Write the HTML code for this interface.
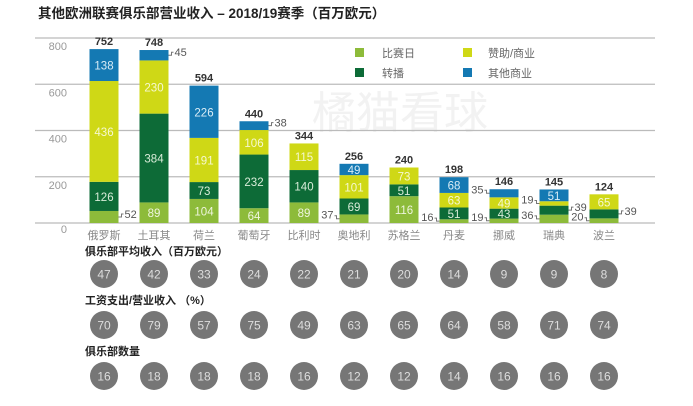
<!DOCTYPE html>
<html><head><meta charset="utf-8"><style>
body{margin:0;background:#fff;font-family:"Liberation Sans","Noto Sans CJK SC",sans-serif;}
svg text{font-family:"Liberation Sans","Noto Sans CJK SC",sans-serif;}
</style></head><body>
<svg id="c" width="693" height="401" viewBox="0 0 693 401" xmlns="http://www.w3.org/2000/svg">
<text x="38" y="18" font-size="13.5" font-weight="bold" fill="#222">其他欧洲联赛俱乐部营业收入 – 2018/19赛季（百万欧元）</text>
<text x="400" y="128" font-size="44" fill="#f2f2f2" text-anchor="middle">橘猫看球</text>
<g id="grid"></g><g id="bars"></g>
<g>
<rect x="355" y="48" width="9" height="9" fill="#8dbb3a"/><text x="382" y="57" font-size="11" fill="#666">比赛日</text>
<rect x="463" y="48" width="9" height="9" fill="#cfd816"/><text x="488" y="57" font-size="11" fill="#666">赞助/商业</text>
<rect x="355" y="68" width="9" height="9" fill="#0d6b37"/><text x="382" y="77" font-size="11" fill="#666">转播</text>
<rect x="463" y="68" width="9" height="9" fill="#1479b3"/><text x="488" y="77" font-size="11" fill="#666">其他商业</text>
</g>
<text x="85" y="255" font-size="11" font-weight="bold" fill="#222">俱乐部平均收入（百万欧元）</text>
<text x="85" y="304" font-size="11" font-weight="bold" fill="#222">工资支出/营业收入 （%）</text>
<text x="85" y="355" font-size="11" font-weight="bold" fill="#222">俱乐部数量</text>
<g id="circ"></g>
</svg>
<script>
const countries=["俄罗斯","土耳其","荷兰","葡萄牙","比利时","奥地利","苏格兰","丹麦","挪威","瑞典","波兰"];
const matchday=[52,89,104,64,89,37,116,16,19,36,20];
const broadcast=[126,384,73,232,140,69,51,51,43,39,39];
const sponsor=[436,230,191,106,115,101,73,63,49,19,65];
const other=[138,45,226,38,0,49,0,68,35,51,0];
const totals=[752,748,594,440,344,256,240,198,146,145,124];
const avgRevenue=[47,42,33,24,22,21,20,14,9,9,8];
const wageRatio=[70,79,57,75,49,63,65,64,58,71,74];
const clubCount=[16,18,18,18,16,12,12,14,16,16,16];
const yTicks=[0,200,400,600,800];
const series=[matchday,broadcast,sponsor,other];
const colors=["#8dbb3a","#0d6b37","#cfd816","#1479b3"];
const txtCol=["#eef5dd","#d8ecd8","#f6f8d0","#d8ecf6"];
const pos=[["r","i","i","i","i","l","i","l","l","l","l"],["i","i","i","i","i","i","i","i","i","r","r"],["i","i","i","i","i","i","i","i","i","l","i"],["i","r","i","r","i","i","i","i","l","i","i"]];
const NS="http://www.w3.org/2000/svg";
const y0=223,k=185/800;
function y(v){return y0-v*k;}
function x(i){return 104+i*50;}
function mk(t,a,p){const e=document.createElementNS(NS,t);for(const q in a)e.setAttribute(q,a[q]);p.appendChild(e);return e;}
const grid=document.getElementById('grid'),bars=document.getElementById('bars'),circ=document.getElementById('circ');
yTicks.forEach(v=>{
 const l=mk('line',{x1:35,x2:655,y1:y(v),y2:y(v),stroke:'#bbb','stroke-width':1.3},grid);
 
 
 const t=mk('text',{x:67,y:y(v)+(v===0?10:12),'font-size':11,fill:'#999','text-anchor':'end'},grid);
 t.textContent=v;
 
 
});
countries.forEach((c,i)=>{
 let base=0;const cx=x(i),bw=29;
 series.forEach((s,j)=>{
  const v=s[i];if(!v)return;
  const top=y(base+v),bot=y(base);
  const r=mk('rect',{x:cx-bw/2,y:top,width:bw,height:bot-top,fill:colors[j]},bars);
  
  
  const p=pos[j][i],mid=(top+bot)/2;
  let t;
  if(p==='i'){t=mk('text',{x:cx,y:mid+4.5,'font-size':11.5,fill:txtCol[j],'text-anchor':'middle'},bars);}
  else if(p==='r'){const lx=cx+bw/2;mk('path',{d:`M${lx} ${mid}h3v-3h2`,stroke:'#777',fill:'none','stroke-width':1},bars);t=mk('text',{x:lx+6,y:mid+1,'font-size':11,fill:'#555'},bars);}
  else{const lx=cx-bw/2;mk('path',{d:`M${lx} ${mid}h-3v-3h-2`,stroke:'#777',fill:'none','stroke-width':1},bars);t=mk('text',{x:lx-6,y:mid,'font-size':11,fill:'#555','text-anchor':'end'},bars);}
  t.textContent=v;
  
  
  base+=v;
 });
 const tt=mk('text',{x:cx,y:y(totals[i])-4,'font-size':11,'font-weight':'bold',fill:'#333','text-anchor':'middle'},bars);
 tt.textContent=totals[i];
 
 
 const ct=mk('text',{x:cx,y:239,'font-size':11,fill:'#888','text-anchor':'middle'},bars);
 ct.textContent=c;
 
 
 [[avgRevenue,274,'avg-revenue'],[wageRatio,325,'wage-ratio'],[clubCount,376,'club-count']].forEach(([arr,cy,nm])=>{
  const ci=mk('circle',{cx:cx,cy:cy,r:14,fill:'#767676'},circ);
  
  
  const tx=mk('text',{x:cx,y:cy+4.5,'font-size':12,fill:'#ddd','text-anchor':'middle'},circ);
  tx.textContent=arr[i];
  
  
 });
});
</script>
</body></html>
